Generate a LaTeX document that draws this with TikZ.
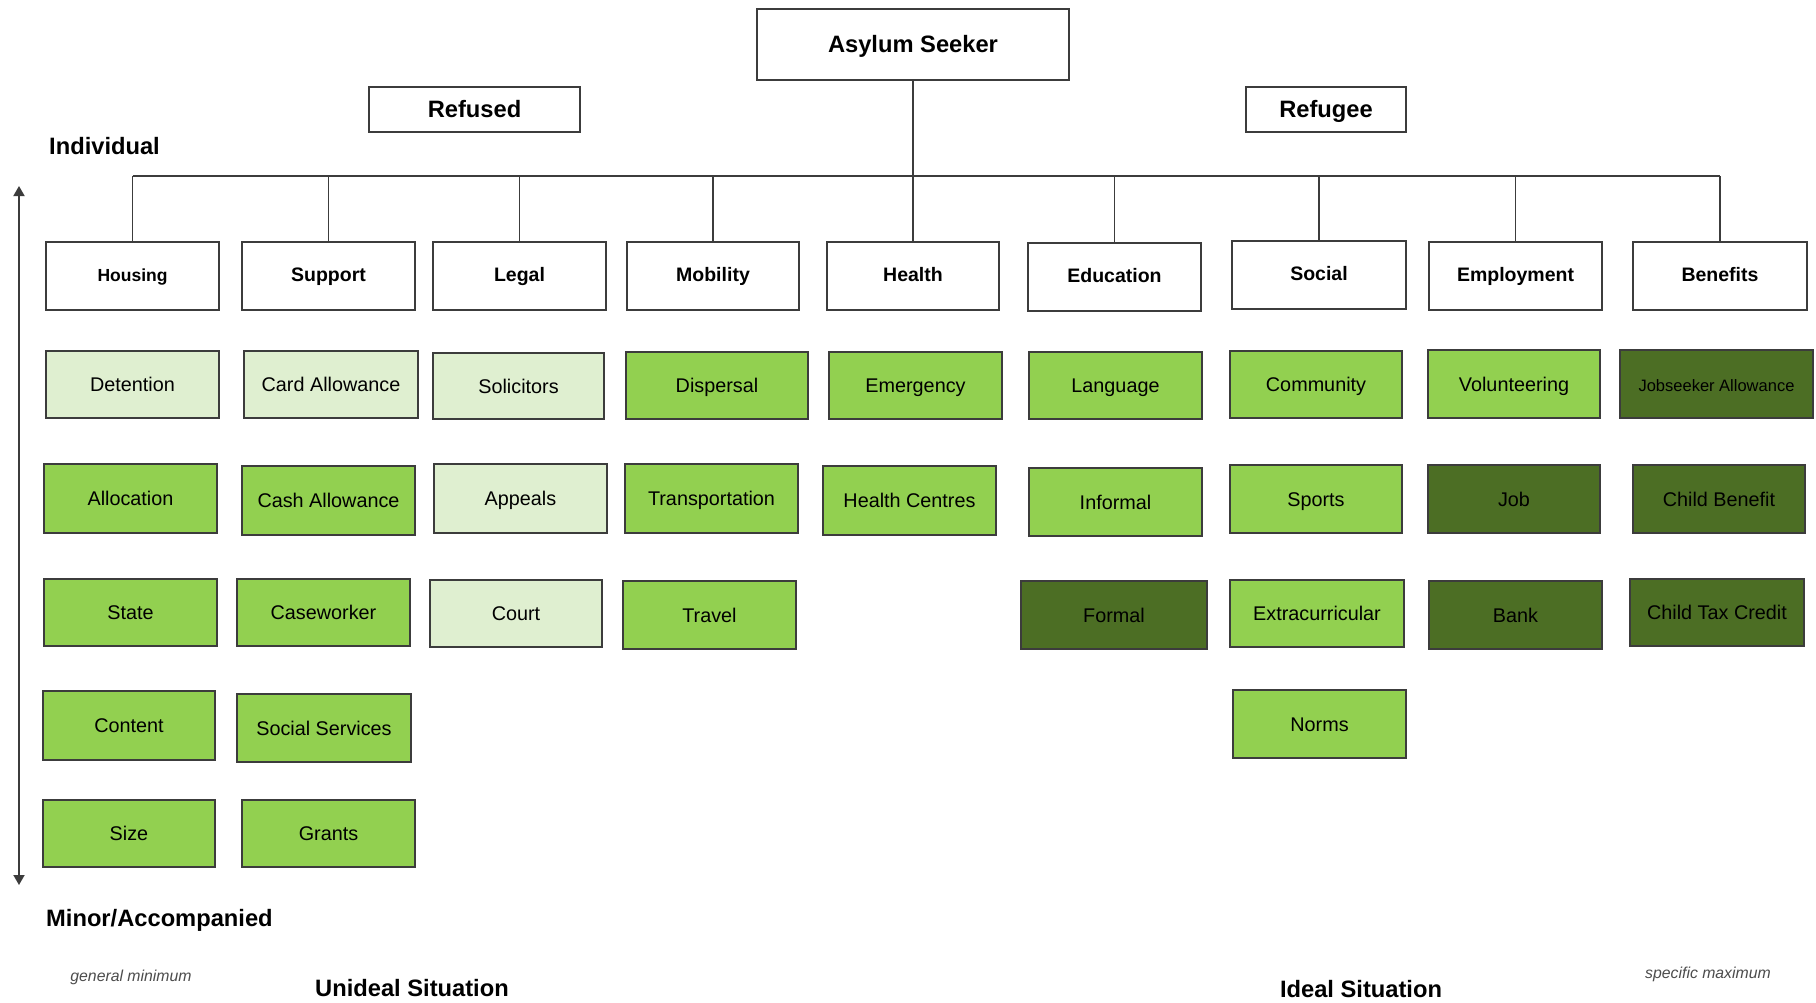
\documentclass[tikz,border=0pt]{standalone}
\usepackage{fontspec}
\setmainfont{Liberation Sans}
\usetikzlibrary{arrows.meta}
\definecolor{lightg}{RGB}{223,239,208}
\definecolor{midg}{RGB}{146,208,80}
\definecolor{darkg}{RGB}{76,110,36}
\definecolor{edge}{RGB}{60,60,60}
% box from corner (x1,y1) to corner (x2,y2)
\newcommand\bx[7]{\node[#6, minimum width={(#4)-(#2)}, minimum height={(#5)-(#3)}]
  (#1) at ({((#2)+(#4))/2},{((#3)+(#5))/2}) {#7};}
\tikzset{
  basebox/.style={draw=edge, line width=1.5pt, inner sep=0pt, outer sep=0pt, rectangle},
  headbox/.style={basebox, fill=white, font=\fontsize{23.7}{27}\selectfont\bfseries,
    text height=20pt, text depth=5pt},
  catbox/.style={basebox, fill=white, font=\fontsize{19.5}{23}\selectfont\bfseries,
    text height=16pt, text depth=4.2pt},
  rowbox/.style={basebox, font=\fontsize{19.8}{23}\selectfont,
    text height=18.6pt, text depth=4.2pt},
  lbox/.style={rowbox, fill=lightg},
  mbox/.style={rowbox, fill=midg},
  dbox/.style={rowbox, fill=darkg},
  link/.style={draw=edge, line width=1.6pt},
  sidelabel/.style={font=\fontsize{23.7}{27}\selectfont\bfseries, inner sep=0pt},
  endlabel/.style={font=\fontsize{15.8}{19}\selectfont\itshape, text=black!70, inner sep=0pt},
}
\begin{document}
\begin{tikzpicture}[x=1pt,y=-1pt]
\useasboundingbox[fill=white] (0,0) rectangle (1816,1002);

% top of the hierarchy
\bx{asylum}{757}{9}{1069}{80}{headbox}{Asylum Seeker}
\bx{refused}{369}{87}{580}{132}{headbox}{Refused}
\bx{refugee}{1246}{87}{1406}{132}{headbox}{Refugee}

% categories
\bx{housing}{46}{242}{219}{310}{catbox, font=\fontsize{17.5}{21}\selectfont\bfseries}{Housing}
\bx{support}{242}{242}{415}{310}{catbox}{Support}
\bx{legal}{433}{242}{606}{310}{catbox}{Legal}
\bx{mobility}{627}{242}{799}{310}{catbox}{Mobility}
\bx{health}{827}{242}{999}{310}{catbox}{Health}
\bx{education}{1028}{243}{1201}{311}{catbox}{Education}
\bx{social}{1232}{241}{1406}{309}{catbox}{Social}
\bx{employment}{1429}{242}{1602}{310}{catbox}{Employment}
\bx{benefits}{1633}{242}{1807}{310}{catbox}{Benefits}

% bus connecting the categories
\coordinate (bus) at (0,176);
\draw[link] (asylum.south) -- (asylum.south |- bus);
\draw[link] (housing.north |- bus) -- (benefits.north |- bus);
\foreach \c in {housing,support,legal,mobility,health,education,social,employment,benefits}
  \draw[link] (\c.north) -- (\c.north |- bus);

% row 1
\bx{detention}{46}{351}{219}{418}{lbox}{Detention}
\bx{card}{244}{351}{418}{418}{lbox}{Card Allowance}
\bx{solicitors}{433}{353}{604}{419}{lbox}{Solicitors}
\bx{dispersal}{626}{352}{808}{419}{mbox}{Dispersal}
\bx{emergency}{829}{352}{1002}{419}{mbox}{Emergency}
\bx{language}{1029}{352}{1202}{419}{mbox}{Language}
\bx{community}{1230}{351}{1402}{418}{mbox}{Community}
\bx{volunteering}{1428}{350}{1600}{418}{mbox}{Volunteering}
\bx{jobseeker}{1620}{350}{1813}{418}{dbox, font=\fontsize{16.5}{20}\selectfont}{Jobseeker Allowance}

% row 2
\bx{allocation}{44}{464}{217}{533}{mbox}{Allocation}
\bx{cash}{242}{466}{415}{535}{mbox}{Cash Allowance}
\bx{appeals}{434}{464}{607}{533}{lbox}{Appeals}
\bx{transport}{625}{464}{798}{533}{mbox}{Transportation}
\bx{centres}{823}{466}{996}{535}{mbox}{Health Centres}
\bx{informal}{1029}{468}{1202}{536}{mbox}{Informal}
\bx{sports}{1230}{465}{1402}{533}{mbox}{Sports}
\bx{job}{1428}{465}{1600}{533}{dbox}{Job}
\bx{childben}{1633}{465}{1805}{533}{dbox}{Child Benefit}

% row 3
\bx{state}{44}{579}{217}{646}{mbox}{State}
\bx{caseworker}{237}{579}{410}{646}{mbox}{Caseworker}
\bx{court}{430}{580}{602}{647}{lbox}{Court}
\bx{travel}{623}{581}{796}{649}{mbox}{Travel}
\bx{formal}{1021}{581}{1207}{649}{dbox}{Formal}
\bx{extra}{1230}{580}{1404}{647}{mbox}{Extracurricular}
\bx{bank}{1429}{581}{1602}{649}{dbox}{Bank}
\bx{taxcredit}{1630}{579}{1804}{646}{dbox}{Child Tax Credit}

% row 4
\bx{content}{43}{691}{215}{760}{mbox}{Content}
\bx{services}{237}{694}{411}{762}{mbox}{Social Services}
\bx{norms}{1233}{690}{1406}{758}{mbox}{Norms}

% row 5
\bx{size}{43}{800}{215}{867}{mbox}{Size}
\bx{grants}{242}{800}{415}{867}{mbox}{Grants}

% side scale
\coordinate (scaletop) at (19,186);
\coordinate (scalebot) at (19,885);
\draw[link, line width=1.8pt, {Triangle[length=10pt,width=11pt]}-{Triangle[length=10pt,width=11pt]}] (scaletop) -- (scalebot);
\node[sidelabel, anchor=west] (individual) at (49,146) {Individual};
\node[sidelabel, anchor=west] (minor) at (46,920) {Minor/Accompanied};

% bottom labels
\node[endlabel] (genmin) at (131,977) {general minimum};
\node[sidelabel] (unideal) at (412,988) {Unideal Situation};
\node[sidelabel] (ideal) at (1361,989) {Ideal Situation};
\node[endlabel] (specmax) at (1708,974) {specific maximum};
\end{tikzpicture}
\end{document}
